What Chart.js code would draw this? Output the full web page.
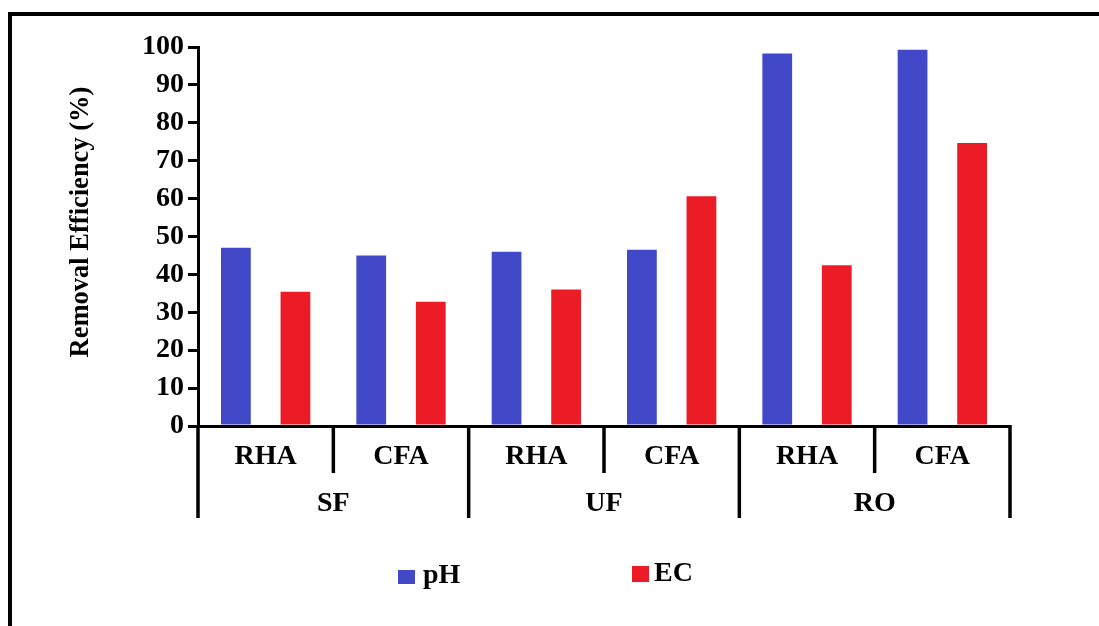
<!DOCTYPE html>
<html>
<head>
<meta charset="utf-8">
<script src="https://cdn.jsdelivr.net/npm/chart.js@4.4.1/dist/chart.umd.min.js"></script>
<style>
  html, body { margin: 0; padding: 0; background: #fff; }
  #wrap { position: relative; width: 1099px; height: 626px; overflow: hidden; }
  #frame {
    position: absolute; left: 8px; top: 12px; right: 0; bottom: 0;
    border-top: 4.5px solid #000; border-left: 4.5px solid #000;
    pointer-events: none;
  }
</style>
</head>
<body>
<div id="wrap">
  <canvas id="chart" width="1099" height="626"></canvas>
  <div id="frame"></div>
</div>
<script>
// values (removal efficiency, %)
const processes = ["SF", "UF", "RO"]
const adsorbents = ["RHA", "CFA", "RHA", "CFA", "RHA", "CFA"]
const phValues = [47.0, 45.0, 46.0, 46.5, 98.3, 99.3]
const ecValues = [35.4, 32.8, 36.0, 60.6, 42.4, 74.7]
const yTitle = 'Removal Efficiency (%)'

const serif = '"Liberation Serif", "Times New Roman", serif'
const blue = '#4249c9'
const red = '#ec1c26'

// y title, process group dividers + names under the category axis, and the legend
const groupAxis = {
  id: 'groupAxis',
  afterDraw(chart) {
    const { ctx, scales: { x } } = chart
    const step = x.width / adsorbents.length
    const y0 = x.top

    ctx.save()
    ctx.strokeStyle = '#000'
    ctx.lineWidth = 3.5
    for (let i = 0; i <= adsorbents.length; i++) {
      const px = x.left + i * step
      ctx.beginPath()
      ctx.moveTo(px, y0 - 1)
      ctx.lineTo(px, i % 2 === 0 ? y0 + 92 : y0 + 47)
      ctx.stroke()
    }

    ctx.font = 'bold 28px ' + serif
    ctx.fillStyle = '#000'
    ctx.textAlign = 'center'
    ctx.textBaseline = 'alphabetic'
    processes.forEach((name, g) => {
      ctx.fillText(name, x.left + (2 * g + 1) * step, y0 + 85)
    })

    // axis title sits a bit above the middle of the axis in the original
    ctx.save()
    ctx.translate(81, 222)
    ctx.rotate(-Math.PI / 2)
    ctx.font = 'bold 26.5px ' + serif
    ctx.textBaseline = 'middle'
    ctx.fillText(yTitle, 0, 0)
    ctx.restore()

    // legend
    const items = [
      { box: [398, 570, 17, 14], text: [423, 583] },
      { box: [632, 566, 17, 16], text: [654, 581] }
    ]
    ctx.textAlign = 'left'
    ctx.textBaseline = 'alphabetic'
    chart.data.datasets.forEach((ds, i) => {
      const it = items[i]
      ctx.fillStyle = ds.backgroundColor
      ctx.fillRect(...it.box)
      ctx.fillStyle = '#000'
      ctx.fillText(ds.label, ...it.text)
    })
    ctx.restore()
  }
}

new Chart(document.getElementById('chart'), {
  type: 'bar',
  data: {
    labels: adsorbents,
    datasets: [
      { label: 'pH', data: phValues, backgroundColor: blue },
      { label: 'EC', data: ecValues, backgroundColor: red }
    ]
  },
  options: {
    responsive: false,
    animation: false,
    categoryPercentage: 0.88,
    barPercentage: 0.5,
    layout: { padding: { left: 0, top: 47, right: 89, bottom: 100 } },
    plugins: {
      legend: { display: false },
      tooltip: { enabled: false }
    },
    scales: {
      x: {
        grid: { display: false, drawTicks: false },
        border: { display: true, color: '#000', width: 3 },
        ticks: {
          color: '#000',
          padding: 14,
          autoSkip: false,
          maxRotation: 0,
          font: { family: serif, size: 28, weight: 'bold' }
        },
        afterFit: scale => { scale.height = 100 }
      },
      y: {
        min: 0,
        max: 100,
        grid: { drawOnChartArea: false, color: '#000', lineWidth: 3, tickLength: 10 },
        border: { display: true, color: '#000', width: 3 },
        ticks: {
          stepSize: 10,
          color: '#000',
          padding: 4,
          font: { family: serif, size: 28, weight: 'bold' }
        },
        afterFit: scale => { scale.width = 198 }
      }
    }
  },
  plugins: [groupAxis]
})
</script>
</body>
</html>
